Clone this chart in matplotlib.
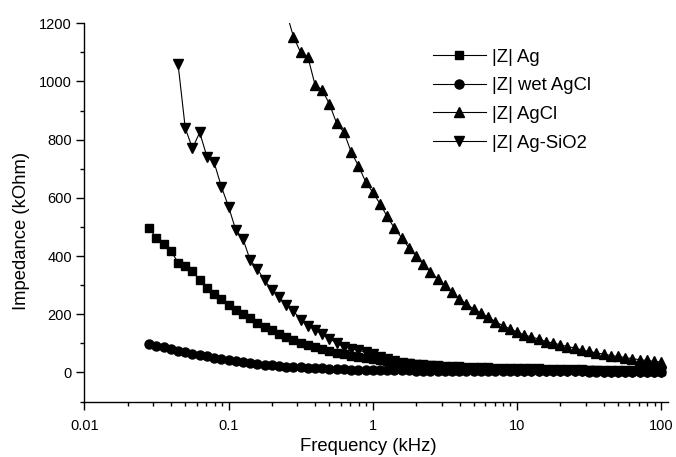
import matplotlib
matplotlib.use("Agg")
import matplotlib.pyplot as plt
from matplotlib.ticker import FixedLocator, MultipleLocator, LogLocator, NullFormatter, FuncFormatter
import numpy as np

plt.rcParams['font.family'] = ['Liberation Sans', 'DejaVu Sans']

# frequency sweep (kHz), shared by all series
freq = np.array([
    0.02818, 0.03162, 0.03548, 0.03981, 0.04467, 0.05012, 0.05623, 0.06310, 0.07079, 0.07943, 0.08913,
    0.1, 0.1122, 0.1259, 0.1413, 0.1585, 0.1778, 0.1995, 0.2239, 0.2512, 0.2818,
    0.3162, 0.3548, 0.3981, 0.4467, 0.5012, 0.5623, 0.6310, 0.7079, 0.7943, 0.8913,
    1.0, 1.122, 1.259, 1.413, 1.585, 1.778, 1.995, 2.239, 2.512, 2.818,
    3.162, 3.548, 3.981, 4.467, 5.012, 5.623, 6.310, 7.079, 7.943, 8.913,
    10.0, 11.22, 12.59, 14.13, 15.85, 17.78, 19.95, 22.39, 25.12, 28.18,
    31.62, 35.48, 39.81, 44.67, 50.12, 56.23, 63.10, 70.79, 79.43, 89.13,
    100.0,
])

# |Z| in kOhm
z_ag = [
    497, 462, 440, 419, 377, 365, 348, 317, 291, 270, 251, 231, 216, 202, 188, 171, 157, 146, 133, 122, 111,
    102, 94, 87, 79, 73, 68, 63, 58, 54, 50, 46,
    43, 40, 37, 34, 32, 30, 28, 26, 24,
    22.5, 21.5, 20.5, 19.5, 18.5, 18, 17, 16.5, 16, 15.5, 15,
    14.5, 14, 13.5, 13, 12.5, 12, 11.5, 11, 10.5, 10, 9.6, 9.2, 8.8, 8.4, 8, 7.6, 7.2, 6.9, 6.6, 6.3,
]
z_wet_agcl = [
    99, 92, 86, 80, 75, 69, 64, 59, 55, 51, 47, 44, 40, 37, 33, 30, 27, 24, 22, 20,
    18.5, 17, 15.5, 14.5, 13.5, 12.5, 11.5, 11, 10, 9.5, 9, 8.5,
    8, 7.7, 7.4, 7.1, 6.8, 6.5, 6.3, 6.1, 5.9, 5.7, 5.5, 5.3, 5.1, 4.9, 4.7, 4.5, 4.4, 4.3, 4.2, 4.1,
    4.0, 3.9, 3.8, 3.7, 3.6, 3.5, 3.4, 3.3, 3.2, 3.1, 3.0, 2.9, 2.8, 2.7, 2.6, 2.5, 2.4, 2.3, 2.2, 2.1,
]
# AgCl starts at freq[19] (first point is off the top of the axis)
z_agcl = [
    1240, 1154, 1100, 1085, 988, 971, 922, 856, 826, 758, 711, 656, 619, 580, 536, 496, 463, 429, 401, 372,
    345, 322, 299, 275, 254, 235, 218, 204, 190, 175, 161, 150, 139, 129, 122, 115, 106, 101, 95, 89,
    84, 77, 72, 67, 63, 58, 55, 51, 47, 44, 41, 38, 36,
]
# Ag-SiO2 starts at freq[4]
z_ag_sio2 = [
    1060, 840, 770, 825, 742, 722, 639, 570, 490, 459, 386, 356, 316, 285, 258, 233, 212, 180, 161, 147, 131, 116, 101,
    89, 82, 76, 70, 62, 53, 45, 39, 34,
    29, 26, 23, 20.5, 18.5, 16.5, 15, 13.5, 12, 11, 10, 9, 8.2, 7.5, 7, 6.5, 6, 5.6, 5.2, 4.9,
    4.6, 4.3, 4.0, 3.8, 3.6, 3.4, 3.2, 3.0, 2.9, 2.8, 2.7, 2.6, 2.5, 2.4, 2.3, 2.2,
]

series = [
    (freq, z_ag, 's', 6.2, '|Z| Ag'),
    (freq, z_wet_agcl, 'o', 6.5, '|Z| wet AgCl'),
    (freq[19:], z_agcl, '^', 7.2, '|Z| AgCl'),
    (freq[4:], z_ag_sio2, 'v', 7.2, '|Z| Ag-SiO2'),
]

fig = plt.figure(figsize=(6.76, 4.57), dpi=100)
ax = fig.add_axes([0.1247, 0.1214, 0.8639, 0.8276])

for x, y, m, ms, lab in series:
    ax.plot(x, y, color='black', lw=0.8, marker=m, ms=ms, mec='black', mfc='black', label=lab)

ax.set_xscale('log')
ax.set_xlim(0.01, 112)
ax.set_ylim(-100, 1200)

ax.xaxis.set_major_locator(FixedLocator([0.01, 0.1, 1, 10, 100]))
ax.xaxis.set_major_formatter(FuncFormatter(lambda v, p: '%g' % v))
ax.xaxis.set_minor_locator(LogLocator(base=10, subs=np.arange(2, 10)))
ax.xaxis.set_minor_formatter(NullFormatter())
ax.yaxis.set_major_locator(MultipleLocator(200))
ax.yaxis.set_minor_locator(MultipleLocator(100))

for s in ['top', 'right']:
    ax.spines[s].set_visible(False)
for s in ['left', 'bottom']:
    ax.spines[s].set_linewidth(1.0)

ax.tick_params(which='major', direction='out', length=5.5, width=1.0, labelsize=10.5)
ax.tick_params(which='minor', direction='out', length=3, width=1.0)
ax.tick_params(axis='x', which='major', pad=7)
ax.tick_params(axis='y', which='major', pad=3.5)

# the reference clips this label at the bottom edge; keep it just inside
ax.set_xlabel('Frequency (kHz)', fontsize=13.3, va='baseline')
ax.xaxis.set_label_coords(0.486, -0.130)
ax.set_ylabel('Impedance (kOhm)', fontsize=13.3)
ax.yaxis.set_label_coords(-0.093, 0.45)

ax.legend(loc='upper left', bbox_to_anchor=(0.5966, 0.933), frameon=False, fontsize=13.3,
          numpoints=1, handlelength=2.88, handletextpad=0.32, labelspacing=0.63,
          borderpad=0, borderaxespad=0)

fig.savefig('out.png', dpi=100)
